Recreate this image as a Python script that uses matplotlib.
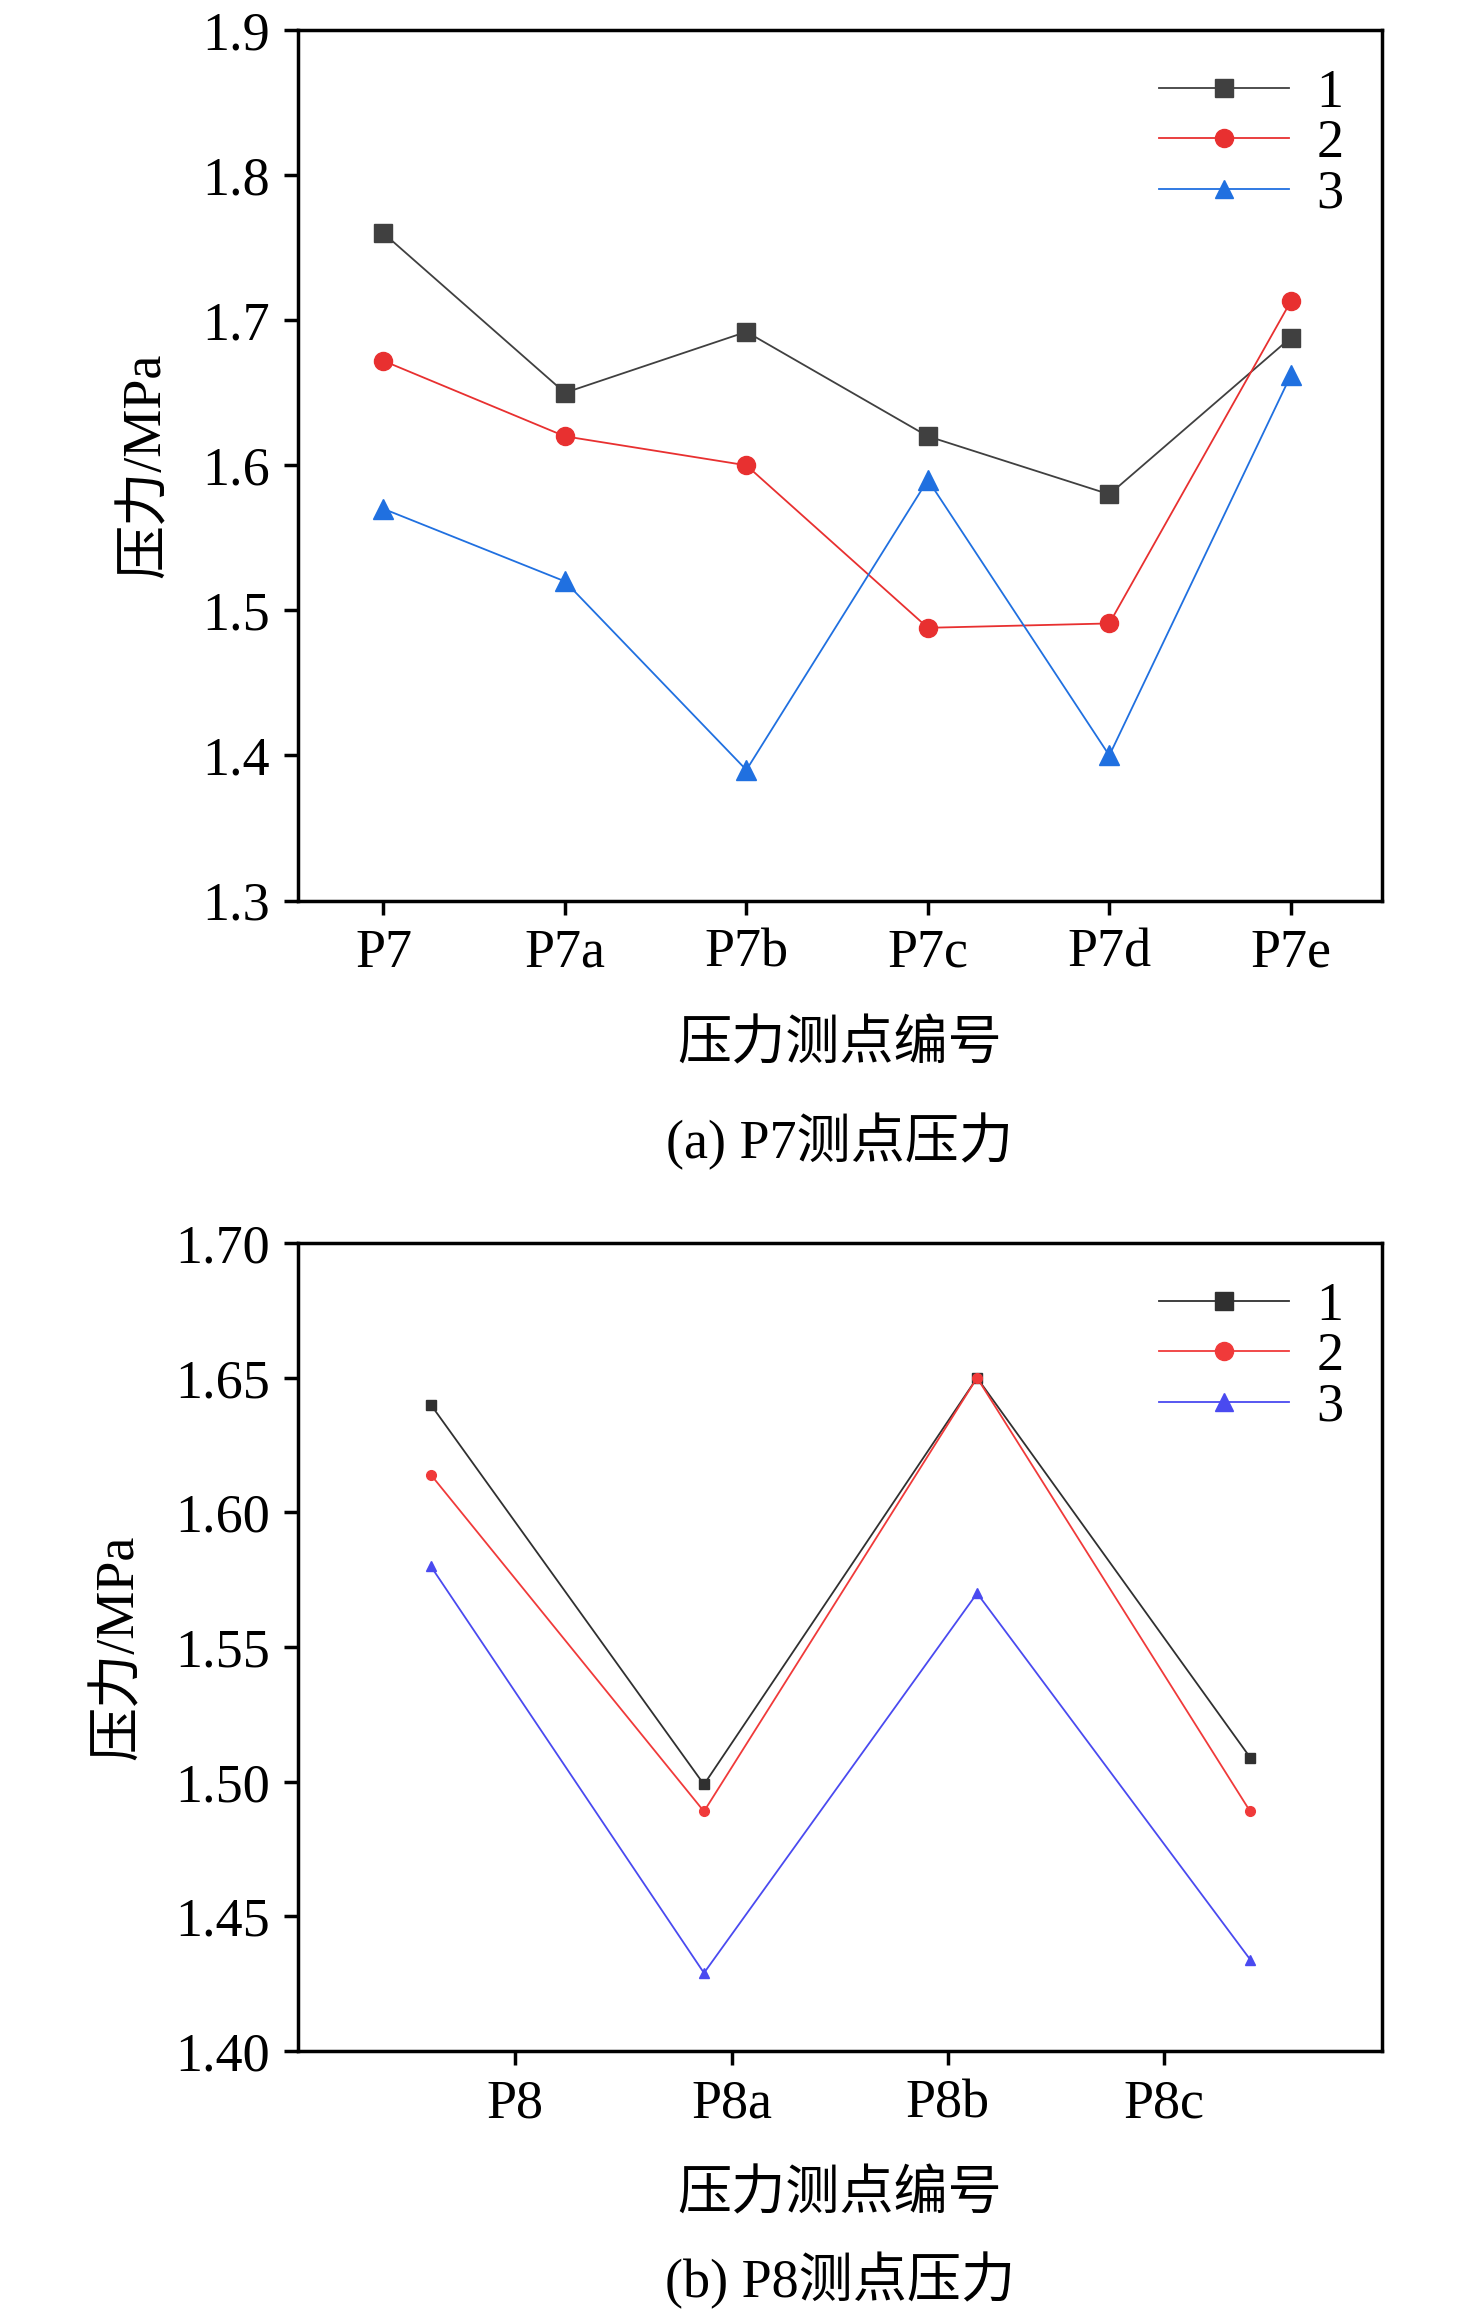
import matplotlib
matplotlib.use("Agg")
import matplotlib.pyplot as plt

plt.rcParams['font.family'] = ['Liberation Serif', 'Noto Sans CJK SC']
plt.rcParams['font.size'] = 39

cats_a = ['P7', 'P7a', 'P7b', 'P7c', 'P7d', 'P7e']
a1 = [1.76, 1.65, 1.692, 1.62, 1.58, 1.688]
a2 = [1.672, 1.62, 1.60, 1.488, 1.491, 1.713]
a3 = [1.57, 1.52, 1.39, 1.59, 1.40, 1.662]

cats_b = ['P8', 'P8a', 'P8b', 'P8c']
b_tick_pos = [0.308, 1.103, 1.892, 2.686]
b1 = [1.64, 1.499, 1.65, 1.509]
b2 = [1.614, 1.489, 1.65, 1.489]
b3 = [1.58, 1.429, 1.57, 1.434]

fig = plt.figure(figsize=(14.76, 23.15), dpi=100)
ax1 = fig.add_axes([0.202, 0.611, 0.734, 0.376])
ax2 = fig.add_axes([0.202, 0.114, 0.734, 0.349])

xa = range(len(cats_a))
ax1.plot(xa, a1, color='#404040', marker='s', ms=13, lw=1.3, label='1')
ax1.plot(xa, a2, color='#e83030', marker='o', ms=13, lw=1.3, label='2')
ax1.plot(xa, a3, color='#2070e0', marker='^', ms=14, lw=1.3, label='3')
ax1.set_xlim(-0.47, 5.5)
ax1.set_ylim(1.3, 1.9)
ax1.set_xticks(list(xa))
ax1.set_xticklabels(cats_a)
ax1.set_yticks([1.3, 1.4, 1.5, 1.6, 1.7, 1.8, 1.9])

xb = range(len(cats_b))
ax2.plot(xb, b1, color='#303030', marker='s', ms=7, lw=1.3, label='1')
ax2.plot(xb, b2, color='#f03a3a', marker='o', ms=7, lw=1.3, label='2')
ax2.plot(xb, b3, color='#4a4af0', marker='^', ms=7, lw=1.3, label='3')
ax2.set_xlim(-0.486, 3.481)
ax2.set_ylim(1.40, 1.70)
ax2.set_xticks(b_tick_pos)
ax2.set_xticklabels(cats_b)
ax2.set_yticks([1.40, 1.45, 1.50, 1.55, 1.60, 1.65, 1.70])
ax2.set_yticklabels(['%.2f' % v for v in [1.40, 1.45, 1.50, 1.55, 1.60, 1.65, 1.70]])

for ax in (ax1, ax2):
    for s in ax.spines.values():
        s.set_linewidth(2.5)
    ax.tick_params(direction='out', width=2.5, length=10, pad=10)
    ax.set_ylabel('压力/MPa', labelpad=22)
    ax.set_xlabel('压力测点编号', labelpad=30)
    leg = ax.legend(loc='upper right', frameon=False, handlelength=2.4,
                    handletextpad=0.5, labelspacing=0.0, borderaxespad=0.3,
                    fontsize=39)
    for h in leg.legend_handles:
        h.set_markersize(13)

fig.text(0.569, 0.507, '(a) P7测点压力', ha='center', va='center')
fig.text(0.569, 0.015, '(b) P8测点压力', ha='center', va='center')
fig.savefig('out.png', dpi=100)
